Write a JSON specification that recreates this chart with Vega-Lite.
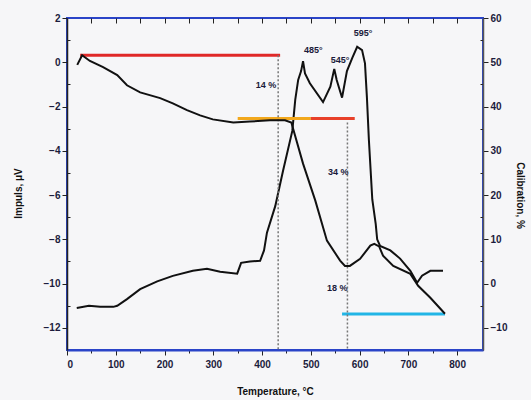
{
  "$schema": "https://vega.github.io/schema/vega-lite/v6.json",
  "width": 416,
  "height": 332,
  "autosize": "none",
  "padding": {"left": 67, "top": 18, "right": 48, "bottom": 50},
  "background": "#f6f6f8",
  "config": {
    "view": {"stroke": "#2a44c8", "strokeWidth": 2},
    "font": "Liberation Sans",
    "axis": {
      "labelFont": "Liberation Sans",
      "labelFontWeight": "bold",
      "labelFontSize": 10,
      "labelColor": "#1c1c3c",
      "titleFont": "Liberation Sans",
      "titleFontWeight": "bold",
      "titleFontSize": 10,
      "titleColor": "#111111",
      "grid": false,
      "tickColor": "#222222"
    }
  },
  "datasets": {
    "dta": [
      {"T": 20, "L": -11.1}, {"T": 45, "L": -11.0}, {"T": 68, "L": -11.05}, {"T": 95, "L": -11.05},
      {"T": 103, "L": -11.0}, {"T": 123, "L": -10.7}, {"T": 150, "L": -10.25}, {"T": 185, "L": -9.9},
      {"T": 217, "L": -9.65}, {"T": 258, "L": -9.42}, {"T": 287, "L": -9.33}, {"T": 314, "L": -9.46},
      {"T": 349, "L": -9.55}, {"T": 357, "L": -9.06}, {"T": 375, "L": -9.0}, {"T": 396, "L": -8.97},
      {"T": 404, "L": -8.5}, {"T": 410, "L": -7.7}, {"T": 427, "L": -6.5}, {"T": 443, "L": -4.9},
      {"T": 462, "L": -3.1}, {"T": 468, "L": -1.7}, {"T": 474, "L": -0.8}, {"T": 480, "L": -0.4},
      {"T": 484, "L": 0.05}, {"T": 488, "L": -0.5}, {"T": 498, "L": -0.95}, {"T": 525, "L": -1.8},
      {"T": 540, "L": -1.1}, {"T": 548, "L": -0.3}, {"T": 553, "L": -0.8}, {"T": 564, "L": -1.6},
      {"T": 574, "L": -0.4}, {"T": 585, "L": 0.2}, {"T": 595, "L": 0.7}, {"T": 605, "L": 0.55},
      {"T": 611, "L": -0.05}, {"T": 615, "L": -1.6}, {"T": 619, "L": -3.5}, {"T": 626, "L": -6.2},
      {"T": 633, "L": -7.3}, {"T": 636, "L": -8.0}, {"T": 642, "L": -8.3}, {"T": 663, "L": -8.5},
      {"T": 683, "L": -8.87}, {"T": 704, "L": -9.42}, {"T": 718, "L": -9.96}, {"T": 728, "L": -9.64},
      {"T": 745, "L": -9.42}, {"T": 771, "L": -9.42}
    ],
    "tg": [
      {"T": 21, "R": 49.4}, {"T": 31, "R": 51.6}, {"T": 47, "R": 50.3}, {"T": 74, "R": 48.9},
      {"T": 103, "R": 47.1}, {"T": 123, "R": 44.8}, {"T": 150, "R": 43.2}, {"T": 191, "R": 41.9},
      {"T": 217, "R": 40.7}, {"T": 246, "R": 39.2}, {"T": 273, "R": 38.0}, {"T": 299, "R": 37.1},
      {"T": 341, "R": 36.4}, {"T": 375, "R": 36.6}, {"T": 416, "R": 36.9}, {"T": 447, "R": 36.9},
      {"T": 460, "R": 36.4}, {"T": 484, "R": 27.1}, {"T": 509, "R": 18.8}, {"T": 533, "R": 9.7},
      {"T": 560, "R": 5.2}, {"T": 570, "R": 4.0}, {"T": 580, "R": 4.0}, {"T": 601, "R": 5.6},
      {"T": 622, "R": 8.6}, {"T": 630, "R": 9.0}, {"T": 640, "R": 8.4}, {"T": 648, "R": 6.3},
      {"T": 669, "R": 4.0}, {"T": 704, "R": 2.2}, {"T": 720, "R": -0.5}, {"T": 745, "R": -3.2},
      {"T": 775, "R": -6.8}
    ],
    "hlines": [
      {"seg": "top", "T": 27, "T2": 437, "R": 51.6},
      {"seg": "midA", "T": 350, "T2": 500, "R": 37.3},
      {"seg": "midB", "T": 500, "T2": 590, "R": 37.3},
      {"seg": "low", "T": 564, "T2": 775, "R": -6.85}
    ],
    "vlines": [
      {"T": 433, "R": 51.6, "R2": -15},
      {"T": 575, "R": 36.4, "R2": -15}
    ],
    "labels": [
      {"T": 408, "R": 44.8, "label": "14 %"},
      {"T": 556, "R": 25.1, "label": "34 %"},
      {"T": 554, "R": -1.0, "label": "18 %"},
      {"T": 505, "R": 52.7, "label": "485°"},
      {"T": 560, "R": 50.5, "label": "545°"},
      {"T": 607, "R": 56.6, "label": "595°"}
    ]
  },
  "layer": [
    {
      "data": {"name": "dta"},
      "mark": {"type": "line", "color": "#111111", "strokeWidth": 2},
      "encoding": {
        "x": {
          "field": "T", "type": "quantitative",
          "scale": {"domain": [0, 853], "nice": false},
          "axis": {
            "orient": "bottom",
            "values": [0, 50, 100, 150, 200, 250, 300, 350, 400, 450, 500, 550, 600, 650, 700, 750, 800],
            "labelExpr": "datum.value % 100 === 0 ? datum.label : ''",
            "tickSize": {"condition": {"test": "datum.value % 100 !== 0", "value": 3}, "value": 5},
            "domainColor": "#2a44c8", "domainWidth": 2,
            "labelPadding": 4,
            "title": "Temperature, °C",
            "titleY": 36
          }
        },
        "y": {
          "field": "L", "type": "quantitative",
          "scale": {"domain": [-13, 2], "nice": false, "zero": false},
          "axis": {
            "orient": "left",
            "values": [-12, -11, -10, -9, -8, -7, -6, -5, -4, -3, -2, -1, 0, 1, 2],
            "labelExpr": "datum.value % 2 === 0 ? datum.label : ''",
            "tickSize": {"condition": {"test": "datum.value % 2 !== 0", "value": -3}, "value": 5},
            "domainColor": "#222222", "domainWidth": 1.5,
            "title": "Impuls, μV",
            "titleX": -44,
            "titleY": 175
          }
        }
      }
    },
    {
      "encoding": {
        "x": {
          "field": "T", "type": "quantitative",
          "scale": {"domain": [0, 853], "nice": false},
          "axis": {
            "orient": "top",
            "values": [50, 100, 150, 200, 250, 300, 350, 400, 450, 500, 550, 600, 650, 700, 750, 800],
            "labels": false, "domain": false, "title": null,
            "tickSize": -5
          }
        },
        "y": {
          "field": "R", "type": "quantitative",
          "scale": {"domain": [-15, 60], "nice": false, "zero": false},
          "axis": {
            "orient": "right",
            "values": [-10, -5, 0, 5, 10, 15, 20, 25, 30, 35, 40, 45, 50, 55, 60],
            "labelExpr": "datum.value % 10 === 0 ? datum.label : ''",
            "tickSize": {"condition": {"test": "datum.value % 10 !== 0", "value": -3}, "value": 5},
            "domainColor": "#555555", "domainWidth": 1.5,
            "title": "Calibration, %",
            "titleX": 31,
            "titleY": 177
          }
        }
      },
      "layer": [
        {
          "data": {"name": "hlines"},
          "mark": {"type": "rule", "strokeWidth": 3},
          "encoding": {
            "x2": {"field": "T2"},
            "color": {
              "field": "seg", "type": "nominal",
              "scale": {"domain": ["top", "midA", "midB", "low"], "range": ["#e02828", "#f2a81d", "#e8402a", "#22b5e6"]},
              "legend": null
            }
          }
        },
        {
          "data": {"name": "vlines"},
          "mark": {"type": "rule", "strokeWidth": 1.5, "strokeDash": [2, 2], "color": "#777777"},
          "encoding": {"y2": {"field": "R2"}}
        },
        {
          "data": {"name": "tg"},
          "mark": {"type": "line", "color": "#111111", "strokeWidth": 2}
        },
        {
          "data": {"name": "labels"},
          "mark": {"type": "text", "fontSize": 9, "fontWeight": "bold", "color": "#1a1a3a", "align": "center", "baseline": "middle"},
          "encoding": {"text": {"field": "label"}}
        }
      ]
    }
  ],
  "resolve": {"scale": {"y": "independent"}, "axis": {"x": "independent"}}
}
